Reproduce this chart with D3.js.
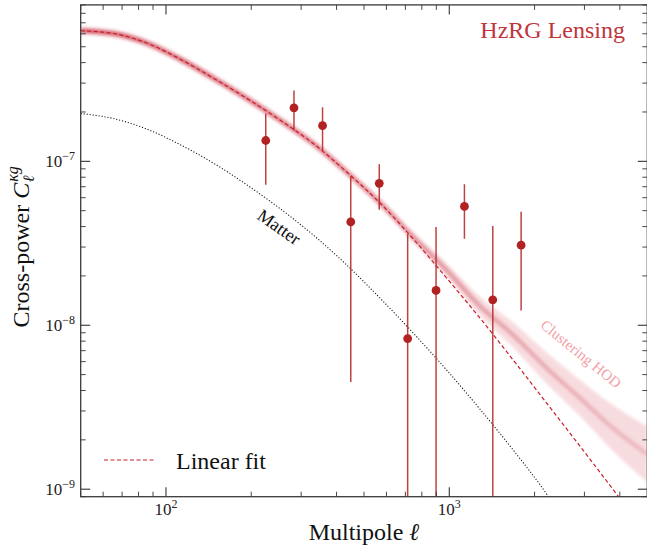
<!DOCTYPE html>
<html><head><meta charset="utf-8">
<script src="https://cdn.jsdelivr.net/npm/d3@7"></script>
<style>body{margin:0;background:#fff}svg{display:block}</style>
</head><body><svg id="c" width="647" height="550"></svg>
<script>
// ---- data ----
const ells = [225, 283, 357, 449, 566, 713, 898, 1131, 1424, 1793];
const cross = [1.34e-7, 2.12e-7, 1.65e-7, 4.27e-8, 7.34e-8, 8.3e-9, 1.63e-8, 5.31e-8, 1.43e-8, 3.08e-8];
const crossErr = [6.2e-8, 5.8e-8, 4.85e-8, 3.82e-8, 2.27e-8, 2.77e-8, 2.34e-8, 1.94e-8, 2.6e-8, 1.85e-8];

const fitEll = [50, 65.2, 85.5, 112, 146.9, 192.2, 252.6, 331.1, 434.5, 569.3, 746.4, 979, 1283, 1682, 2207, 2893, 4000];
const fitC = [6.26e-7, 6.02e-7, 5.27e-7, 4.21e-7, 3.22e-7, 2.43e-7, 1.786e-7, 1.284e-7, 8.6e-8, 5.57e-8, 3.36e-8, 1.94e-8, 1.107e-8, 6.13e-9, 3.35e-9, 1.83e-9, 8.8e-10];

const matterEll = [50, 65.2, 85.5, 112, 146.9, 192.2, 252.6, 331.1, 434.5, 569.3, 746.4, 979, 1283, 1682, 2207, 2300];
const matterC = [1.957e-7, 1.824e-7, 1.574e-7, 1.266e-7, 9.76e-8, 7.22e-8, 5.15e-8, 3.55e-8, 2.33e-8, 1.465e-8, 8.96e-9, 5.33e-9, 3.08e-9, 1.732e-9, 9.33e-10, 8.4e-10];

const hodEll = [50, 65.2, 85.5, 112, 146.9, 192.2, 252.6, 331.1, 434.5, 569.3, 746.4, 979, 1283, 1682, 2207, 2893, 3780, 5000];
const hodMid = [6.26e-7, 6.02e-7, 5.27e-7, 4.21e-7, 3.22e-7, 2.43e-7, 1.786e-7, 1.284e-7, 8.6e-8, 5.6e-8, 3.45e-8, 2.17e-8, 1.31e-8, 8.71e-9, 5.48e-9, 3.6e-9, 2.36e-9, 1.63e-9];
const hodSpread = [0.026, 0.026, 0.026, 0.026, 0.026, 0.026, 0.026, 0.026, 0.027, 0.029, 0.033, 0.042, 0.057, 0.077, 0.095, 0.11, 0.14, 0.17];

const xMajor = [100, 1000];
const xMajorExp = ["2", "3"];
const yMajor = [1e-9, 1e-8, 1e-7];
const yMajorExp = ["−9", "−8", "−7"];

// ---- layout ----
const svg = d3.select("#c");
const L = 80.7, R = 647.3, T = 4.9, B = 496.7;
const x = d3.scaleLog().domain([50, 5000]).range([L, R]);
const y = d3.scaleLog().domain([9e-10, 9e-7]).range([B, T]);
const FONT = "'Liberation Serif', 'DejaVu Serif', serif";
const RED = "#b22222";

const defs = svg.append("defs");
defs.append("clipPath").attr("id", "clip").append("rect")
  .attr("x", L).attr("y", T).attr("width", R - L).attr("height", B - T);
const blur = defs.append("filter").attr("id", "blur").attr("x", "-5%").attr("y", "-5%").attr("width", "110%").attr("height", "110%");
blur.append("feGaussianBlur").attr("stdDeviation", 1.6);
const grad = defs.append("linearGradient").attr("id", "coreGrad")
  .attr("gradientUnits", "userSpaceOnUse").attr("x1", L).attr("x2", R).attr("y1", 0).attr("y2", 0);
grad.append("stop").attr("offset", "0%").attr("stop-color", "#c83848").attr("stop-opacity", 0.75);
grad.append("stop").attr("offset", "55%").attr("stop-color", "#cc4a5a").attr("stop-opacity", 0.5);
grad.append("stop").attr("offset", "100%").attr("stop-color", "#d6707c").attr("stop-opacity", 0.3);

const plot = svg.append("g").attr("clip-path", "url(#clip)");

// HOD band
const hod = hodEll.map((l, i) => ({l, m: hodMid[i], s: hodSpread[i]}));
const band = d3.area().x(d => x(d.l))
  .y0(d => y(d.m * Math.pow(10, -d.s)))
  .y1(d => y(d.m * Math.pow(10, d.s)))
  .curve(d3.curveMonotoneX);
plot.append("path").datum(hod).attr("d", band)
  .attr("fill", "#efb2ba").attr("opacity", 0.45).attr("filter", "url(#blur)");
plot.append("path").datum(hod)
  .attr("d", d3.line().x(d => x(d.l)).y(d => y(d.m)).curve(d3.curveMonotoneX))
  .attr("fill", "none").attr("stroke", "url(#coreGrad)").attr("stroke-width", 4.5)
  .attr("filter", "url(#blur)");

// matter (dotted)
plot.append("path").datum(matterEll.map((l, i) => [l, matterC[i]]))
  .attr("d", d3.line().x(d => x(d[0])).y(d => y(d[1])).curve(d3.curveMonotoneX))
  .attr("fill", "none").attr("stroke", "#111").attr("stroke-width", 1.1)
  .attr("stroke-dasharray", "1.1,1.9");

// linear fit (dashed)
plot.append("path").datum(fitEll.map((l, i) => [l, fitC[i]]))
  .attr("d", d3.line().x(d => x(d[0])).y(d => y(d[1])).curve(d3.curveMonotoneX))
  .attr("fill", "none").attr("stroke", "#c8202a").attr("stroke-width", 1.2)
  .attr("stroke-dasharray", "4,2.5");

// error bars & points
const pts = ells.map((l, i) => ({l, c: cross[i], e: crossErr[i]}));
plot.selectAll("line.err").data(pts).enter().append("line")
  .attr("x1", d => x(d.l)).attr("x2", d => x(d.l))
  .attr("y1", d => y(d.c + d.e))
  .attr("y2", d => (d.c - d.e) > 0 ? y(d.c - d.e) : B + 5)
  .attr("stroke", RED).attr("stroke-width", 1.5).attr("opacity", 0.85);
plot.selectAll("circle.pt").data(pts).enter().append("circle")
  .attr("cx", d => x(d.l)).attr("cy", d => y(d.c)).attr("r", 4.4).attr("fill", RED);

// ---- axes: ticks inward on all four sides ----
const ax = svg.append("g").attr("stroke", "#333");
const xMinor = [];
for (let k = 1; k <= 3; k++) for (let m = 2; m <= 9; m++) { const v = m * Math.pow(10, k); if (v >= 50 && v <= 5000) xMinor.push(v); }
const yMinor = [];
for (let k = -10; k <= -7; k++) for (let m = 2; m <= 9; m++) { const v = m * Math.pow(10, k); if (v >= 9e-10 && v <= 9e-7) yMinor.push(v); }
function tick(x1, y1, x2, y2, w) { ax.append("line").attr("x1", x1).attr("y1", y1).attr("x2", x2).attr("y2", y2).attr("stroke-width", w); }
xMinor.forEach(v => { tick(x(v), B, x(v), B - 5, 0.9); tick(x(v), T, x(v), T + 5, 0.9); });
xMajor.forEach(v => { tick(x(v), B, x(v), B - 9.5, 1.1); tick(x(v), T, x(v), T + 9.5, 1.1); });
yMinor.forEach(v => { tick(L, y(v), L + 5, y(v), 0.9); tick(R, y(v), R - 5, y(v), 0.9); });
yMajor.forEach(v => { tick(L, y(v), L + 9.5, y(v), 1.1); tick(R, y(v), R - 9.5, y(v), 1.1); });
svg.append("rect").attr("x", L).attr("y", T).attr("width", R - L).attr("height", B - T)
  .attr("fill", "none").attr("stroke", "#3a3a3a").attr("stroke-width", 1.3);

// tick labels
xMajor.forEach((v, i) => {
  const t = svg.append("text").attr("x", x(v)).attr("y", 515).attr("text-anchor", "middle")
    .attr("font-family", FONT).attr("font-size", 17).attr("fill", "#222");
  t.append("tspan").text("10");
  t.append("tspan").attr("dy", -7).attr("font-size", 12).text(xMajorExp[i]);
});
yMajor.forEach((v, i) => {
  const t = svg.append("text").attr("x", 75).attr("y", y(v) + 5.5).attr("text-anchor", "end")
    .attr("font-family", FONT).attr("font-size", 17).attr("fill", "#222");
  t.append("tspan").text("10");
  t.append("tspan").attr("dy", -7).attr("font-size", 12).text(yMajorExp[i]);
});

// axis labels
const xl = svg.append("text").attr("x", 364).attr("y", 540).attr("text-anchor", "middle")
  .attr("font-family", FONT).attr("font-size", 24).attr("fill", "#111");
xl.append("tspan").text("Multipole ");
xl.append("tspan").attr("font-style", "italic").text("ℓ");

const yg = svg.append("g").attr("transform", `translate(29,${(T + B) / 2 - 4}) rotate(-90)`);
const yMain = yg.append("text").attr("font-family", FONT).attr("font-size", 24).attr("fill", "#111");
yMain.append("tspan").text("Cross-power ");
yMain.append("tspan").attr("font-style", "italic").text("C");
const wMain = yMain.node().getComputedTextLength();
const ySup = yg.append("text").attr("x", wMain + 1).attr("y", -11).attr("font-family", FONT)
  .attr("font-size", 16).attr("font-style", "italic").attr("fill", "#111").text("κg");
const ySub = yg.append("text").attr("x", wMain + 0.5).attr("y", 5).attr("font-family", FONT)
  .attr("font-size", 16).attr("font-style", "italic").attr("fill", "#111").text("ℓ");
const wTot = wMain + 1 + Math.max(ySup.node().getComputedTextLength(), ySub.node().getComputedTextLength());
[yMain, ySup, ySub].forEach(t => t.attr("transform", `translate(${-wTot / 2},0)`));

// annotations
svg.append("text").attr("x", 625).attr("y", 38).attr("text-anchor", "end")
  .attr("font-family", FONT).attr("font-size", 24).attr("fill", "#c0353c").text("HzRG Lensing");
svg.append("text").attr("transform", "translate(279,227) rotate(35)").attr("text-anchor", "middle")
  .attr("dominant-baseline", "central")
  .attr("font-family", FONT).attr("font-size", 18).attr("fill", "#111").text("Matter");
svg.append("text").attr("transform", "translate(581,354) rotate(39)").attr("text-anchor", "middle")
  .attr("dominant-baseline", "central")
  .attr("font-family", FONT).attr("font-size", 15).attr("fill", "#f2a0a4").text("Clustering HOD");

// legend
svg.append("line").attr("x1", 104).attr("x2", 155).attr("y1", 460).attr("y2", 460)
  .attr("stroke", "#c8202a").attr("stroke-width", 1.2).attr("stroke-dasharray", "4,2.5");
svg.append("text").attr("x", 176).attr("y", 469).attr("font-family", FONT).attr("font-size", 24)
  .attr("fill", "#111").text("Linear fit");
</script></body></html>
